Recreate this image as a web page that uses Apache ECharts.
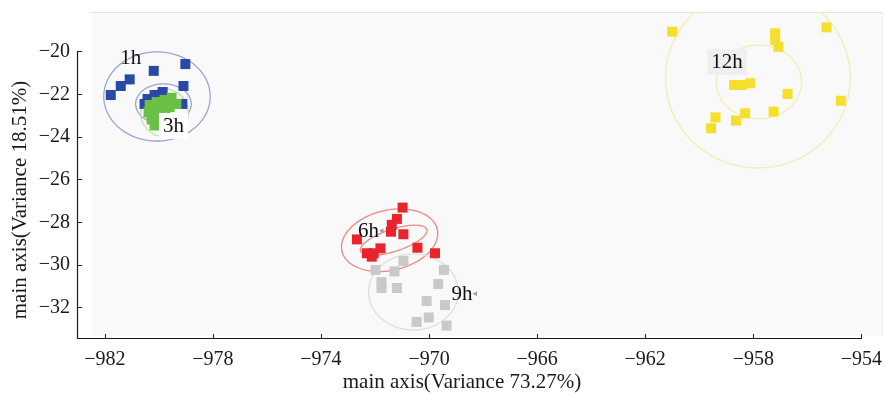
<!DOCTYPE html>
<html>
<head>
<meta charset="utf-8">
<script src="https://cdn.jsdelivr.net/npm/echarts@6/dist/echarts.min.js"></script>
<style>
  html, body { margin: 0; padding: 0; background: #ffffff; }
  #chart { width: 885px; height: 396px; }
</style>
</head>
<body>
<div id="chart"></div>
<script>
// Tick labels on the two principal axes
const xTicks = [-982, -978, -974, -970, -966, -962, -958, -954];
const yTicks = [-20, -22, -24, -26, -28, -30, -32];

// Sample scores per sampling time: [PC1, PC2]
const pts1h = [
  [-979.02, -20.58], [-980.19, -20.90], [-981.08, -21.30], [-981.41, -21.61],
  [-981.78, -22.03], [-979.09, -21.61], [-980.42, -22.22], [-980.16, -22.03],
  [-979.86, -21.89], [-979.13, -22.45], [-980.53, -22.45]
];
const pts3h = [
  [-980.34, -22.50], [-980.08, -22.36], [-979.79, -22.26], [-979.53, -22.16],
  [-979.35, -22.45], [-980.38, -22.84], [-980.12, -22.74], [-979.86, -22.64],
  [-979.60, -22.60], [-980.27, -23.18], [-980.01, -23.06], [-979.75, -22.97],
  [-980.16, -23.46], [-979.90, -23.36]
];
const pts6h = [
  [-970.98, -27.31], [-971.19, -27.84], [-971.38, -28.12], [-971.41, -28.44],
  [-970.95, -28.56], [-972.67, -28.80], [-970.43, -29.19], [-969.78, -29.45],
  [-972.30, -29.45], [-972.05, -29.45], [-971.80, -29.22], [-972.12, -29.61]
];
const pts9h = [
  [-970.95, -29.81], [-971.98, -30.23], [-971.28, -30.30], [-969.45, -30.23],
  [-971.76, -30.80], [-971.76, -31.08], [-971.19, -31.08], [-969.66, -30.89],
  [-970.09, -31.69], [-969.41, -31.88], [-970.46, -32.67], [-970.01, -32.46],
  [-969.35, -32.84]
];
const pts12h = [
  [-961.00, -19.06], [-957.19, -19.14], [-957.19, -19.45], [-957.07, -19.77],
  [-955.29, -18.86], [-958.71, -21.56], [-958.42, -21.56], [-958.11, -21.48],
  [-956.73, -21.98], [-954.76, -22.30], [-957.25, -22.81], [-958.30, -22.89],
  [-958.64, -23.23], [-959.40, -23.08], [-959.56, -23.59]
];

// Confidence ellipses: [group, centreX, centreY, semiAxisX, semiAxisY, tiltDeg]
const ellipses = [
  ['1h', -980.07, -22.10, 1.97, 2.09, 0],
  ['1h', -979.83, -22.45, 1.03, 0.94, 0],
  ['3h', -979.79, -22.87, 0.88, 1.12, 0],
  ['6h', -971.46, -28.84, 1.81, 1.41, 13],
  ['6h', -971.31, -28.84, 1.29, 0.52, 18],
  ['9h', -970.58, -31.27, 1.66, 1.78, 0],
  ['12h', -957.83, -21.23, 3.42, 4.22, 0],
  ['12h', -957.79, -21.42, 1.58, 1.73, 0]
];

// Group annotations
const groupNames = ['1h', '3h', '6h', '9h', '12h'];
const groupLabelX = [-981.04, -979.46, -972.16, -968.70, -958.97];
const groupLabelY = [-20.30, -23.48, -28.41, -31.36, -20.48];

const markColor = { '1h': '#2849a8', '3h': '#6abf45', '6h': '#e8252b', '9h': '#c9c9c9', '12h': '#f3df2c' };
const ringColor = { '1h': '#9ba6d3', '3h': '#c0e0b0', '6h': '#ea8a82', '9h': '#dedede', '12h': '#f2edb4' };
const labelBg = { '3h': '#ffffff', '12h': '#efefef' };
const labelTail = { '6h': true, '9h': true };

const FONT = '"Liberation Serif", "Times New Roman", serif';
const X_MIN = -983.03, X_MAX = -953.37, Y_MIN = -33.47, Y_MAX = -18.14;

const chart = echarts.init(document.getElementById('chart'), null, { renderer: 'canvas' });

const minus = v => (v < 0 ? '\u2212' + Math.abs(v) : String(v));

function scatterSeries(name, data) {
  return {
    name: name,
    type: 'scatter',
    symbol: 'rect',
    symbolSize: 10,
    data: data,
    itemStyle: { color: markColor[name], opacity: 1 },
    emphasis: { disabled: true },
    z: 3
  };
}

const ellipseData = ellipses.map(e => ({
  value: e.slice(1),
  itemStyle: { color: ringColor[e[0]] }
}));

const labelData = groupNames.map((n, i) => ({ value: [groupLabelX[i], groupLabelY[i]], name: n }));

const option = {
  animation: false,
  backgroundColor: '#ffffff',
  grid: { left: 77, right: 3, top: 12, bottom: 57, containLabel: false },
  xAxis: {
    type: 'value', min: X_MIN, max: X_MAX,
    axisLine: { show: false },
    splitLine: { show: false },
    axisTick: { show: true, inside: true, length: 5, customValues: xTicks, lineStyle: { color: '#222', width: 1 } },
    axisLabel: { customValues: xTicks, formatter: minus, color: '#1a1a1a', fontFamily: FONT, fontSize: 20, margin: 11 }
  },
  yAxis: {
    type: 'value', min: Y_MIN, max: Y_MAX,
    axisLine: { show: false },
    splitLine: { show: false },
    axisTick: { show: true, inside: true, length: 5, customValues: yTicks, lineStyle: { color: '#222', width: 1 } },
    axisLabel: { customValues: yTicks, formatter: minus, color: '#1a1a1a', fontFamily: FONT, fontSize: 20, margin: 7 }
  },
  graphic: [
    { type: 'rect', z: -10, shape: { x: 92, y: 12, width: 790, height: 324 }, style: { fill: '#f9f9f9' } },
    { type: 'line', z: -9, shape: { x1: 90, y1: 12.5, x2: 882, y2: 12.5 }, style: { stroke: '#e2e2e2', lineWidth: 1 } },
    { type: 'line', z: -9, shape: { x1: 882.5, y1: 12, x2: 882.5, y2: 336 }, style: { stroke: '#eeeeee', lineWidth: 1 } },
    {
      type: 'text', x: 462, y: 382,
      style: { text: 'main axis(Variance 73.27%)', font: '21px ' + FONT, fill: '#1a1a1a', align: 'center', verticalAlign: 'middle' }
    },
    {
      type: 'text', x: 20, y: 200, rotation: Math.PI / 2,
      style: { text: 'main axis(Variance 18.51%)', font: '21px ' + FONT, fill: '#1a1a1a', align: 'center', verticalAlign: 'middle' }
    }
  ],
  series: [
    {
      name: 'rings',
      type: 'custom',
      clip: true,
      silent: true,
      z: 2,
      data: ellipseData,
      renderItem: function (params, api) {
        const c = api.coord([api.value(0), api.value(1)]);
        const s = api.size([api.value(2), api.value(3)]);
        const a = api.value(4) * Math.PI / 180;
        const pts = [];
        for (let k = 0; k <= 90; k++) {
          const t = (2 * Math.PI * k) / 90;
          const ex = s[0] * Math.cos(t), ey = s[1] * Math.sin(t);
          pts.push([c[0] + ex * Math.cos(a) + ey * Math.sin(a), c[1] - ex * Math.sin(a) + ey * Math.cos(a)]);
        }
        return {
          type: 'polyline',
          shape: { points: pts },
          style: { stroke: api.visual('color'), fill: null, lineWidth: 1.3 }
        };
      }
    },
    scatterSeries('9h', pts9h),
    scatterSeries('6h', pts6h),
    scatterSeries('1h', pts1h),
    scatterSeries('3h', pts3h),
    scatterSeries('12h', pts12h),
    {
      name: 'frame',
      type: 'custom',
      clip: false,
      silent: true,
      z: 4,
      data: [[X_MIN, Y_MIN]],
      renderItem: function (params, api) {
        const top = api.coord([X_MIN, yTicks[0]]);
        const corner = api.coord([X_MIN, Y_MIN]);
        const end = api.coord([xTicks[xTicks.length - 1], Y_MIN]);
        return {
          type: 'polyline',
          shape: { points: [[top[0] + 0.5, top[1]], [corner[0] + 0.5, corner[1] - 0.5], [end[0], end[1] - 0.5]] },
          style: { stroke: '#1a1a1a', fill: null, lineWidth: 1.2 }
        };
      }
    },
    {
      name: 'labels',
      type: 'custom',
      clip: false,
      silent: true,
      z: 5,
      data: labelData,
      renderItem: function (params, api) {
        const p = api.coord([api.value(0), api.value(1)]);
        const n = groupNames[params.dataIndex];
        const style = {
          text: labelTail[n] ? n + '{t|\u25C2}' : n,
          font: '21px ' + FONT,
          fill: '#111111',
          align: 'center',
          verticalAlign: 'middle',
          rich: { t: { fontSize: 9, fill: '#9a9a9a', fontFamily: 'DejaVu Sans' } }
        };
        if (labelBg[n]) {
          style.backgroundColor = labelBg[n];
          style.padding = [3, 4, 2, 4];
        }
        return { type: 'text', x: p[0], y: p[1], style: style };
      }
    }
  ]
};

chart.setOption(option);
</script>
</body>
</html>
